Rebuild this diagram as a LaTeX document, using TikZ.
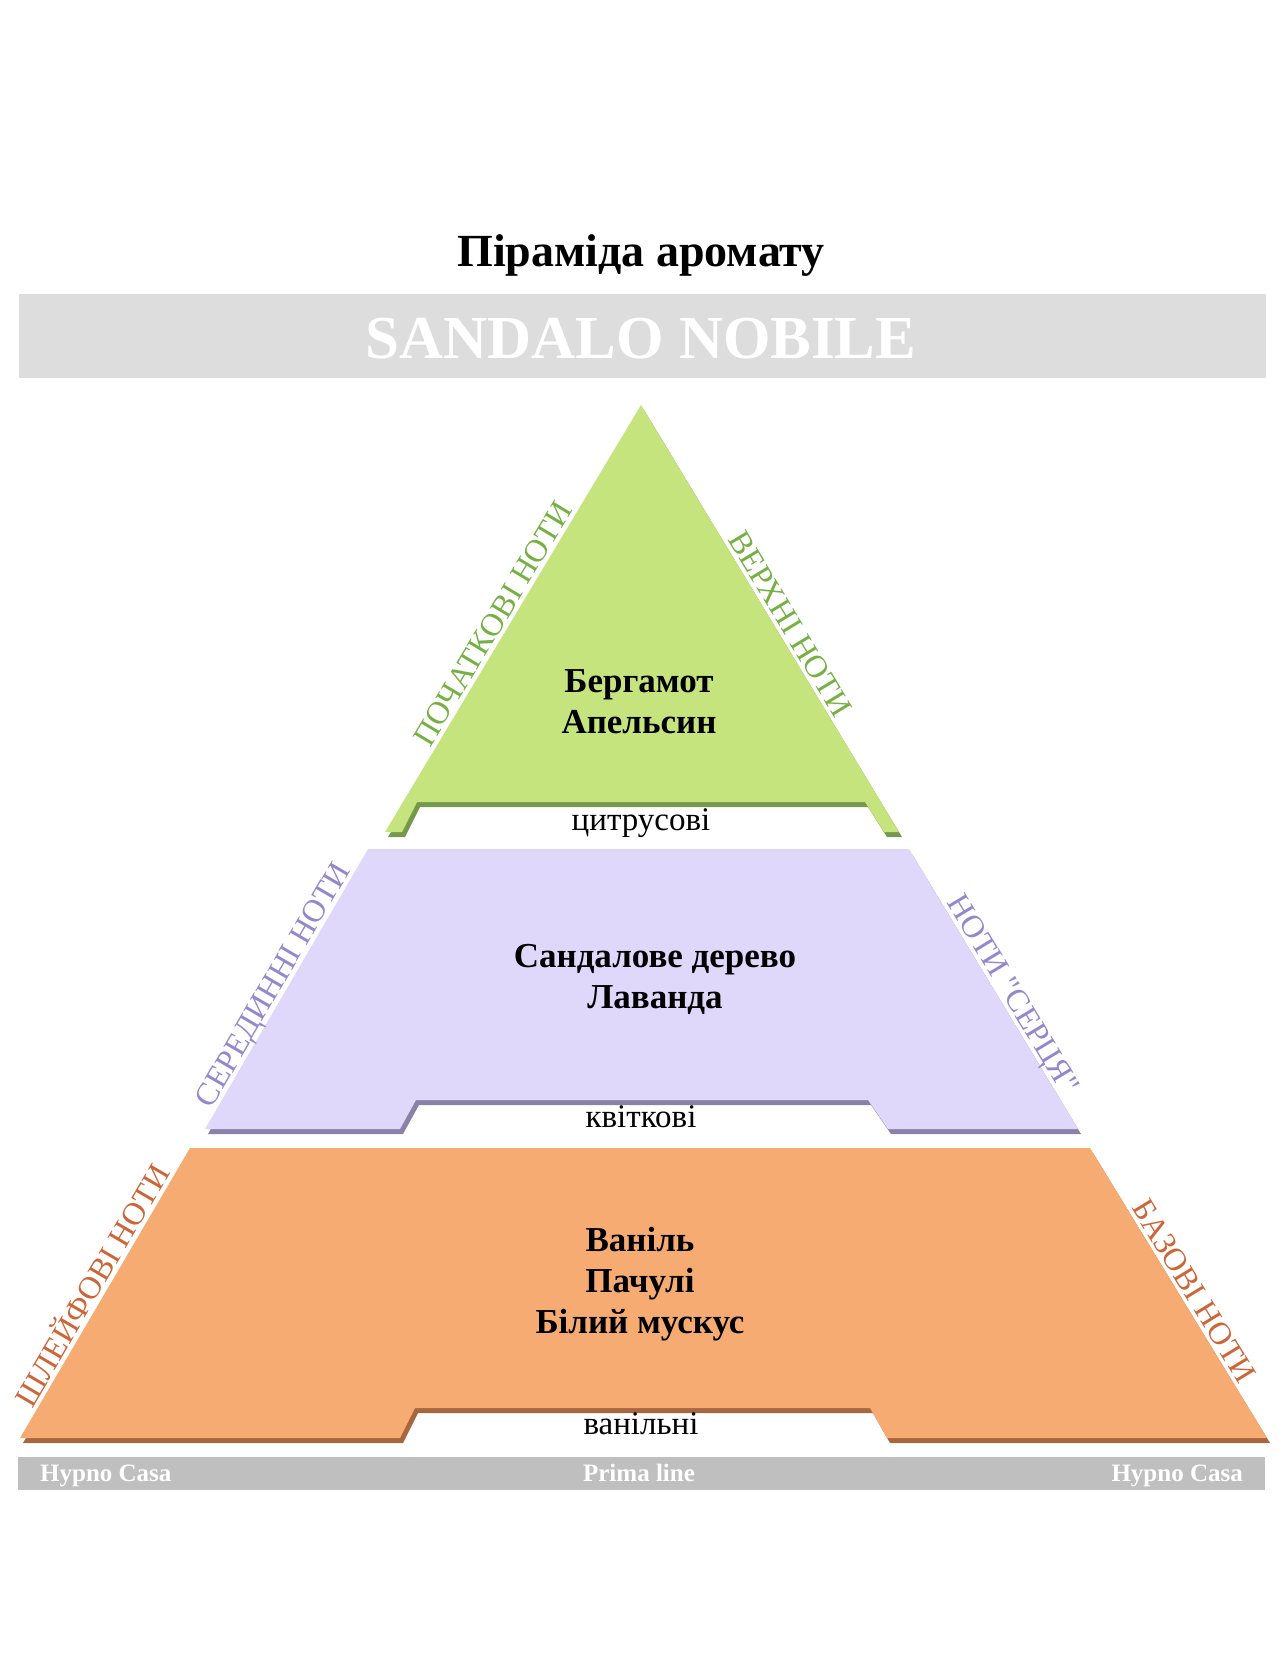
\documentclass[tikz,border=0pt]{standalone}
\usepackage{fontspec}
\setmainfont{Liberation Serif}
\newfontfamily\plainquote{Liberation Serif}
\usepackage{tikz}
\usetikzlibrary{positioning}
\definecolor{TopGreen}{RGB}{197,228,125}
\definecolor{TopGreenDark}{RGB}{118,152,76}
\definecolor{TopGreenText}{RGB}{118,176,68}
\definecolor{HeartLilac}{RGB}{224,216,250}
\definecolor{HeartLilacDark}{RGB}{138,128,168}
\definecolor{HeartLilacText}{RGB}{146,136,206}
\definecolor{BaseOrange}{RGB}{245,171,114}
\definecolor{BaseOrangeDark}{RGB}{168,102,62}
\definecolor{BaseOrangeText}{RGB}{204,102,56}
\definecolor{BandGrey}{RGB}{221,221,221}
\definecolor{FootGrey}{RGB}{191,191,191}
% tier outlines, in pixels of the page
\newcommand{\toptier}{(641,405) -- (899,832) -- (884,832) -- (865,802) -- (417,802) -- (402,832) -- (385,832) -- cycle}
\newcommand{\hearttier}{(368,849) -- (909,849) -- (1078,1129) -- (888,1129) -- (868,1100) -- (416,1100) -- (400,1129) -- (205,1129) -- cycle}
\newcommand{\basetier}{(190,1148) -- (1090,1148) -- (1267,1438) -- (887,1438) -- (870,1408) -- (415,1408) -- (400,1438) -- (20,1438) -- cycle}

\begin{document}
\begin{tikzpicture}[x=1pt, y=-1pt,
    notes/.style={font=\fontsize{35}{41}\selectfont\bfseries, align=center, anchor=base},
    family/.style={font=\fontsize{33}{38}\selectfont, anchor=base},
    side/.style={font=\fontsize{32}{36}\selectfont, sloped, above, inner sep=4pt, text depth=0pt},
    footer/.style={font=\fontsize{25}{28}\selectfont\bfseries, text=white, anchor=base, inner sep=0pt}
]
\useasboundingbox (0,0) rectangle (1284,1671);

% heading
\node[font=\fontsize{46}{52}\selectfont\bfseries, anchor=base] (title) at (641,266) {Піраміда аромату};
\fill[BandGrey] (19,294) rectangle (1266,378);
\node[font=\fontsize{61}{70}\selectfont\bfseries, text=white, anchor=base] (name) at (641,358) {SANDALO NOBILE};

% shadows
\begin{scope}[shift={(3,5)}]
\fill[TopGreenDark] \toptier;
\fill[HeartLilacDark] \hearttier;
\fill[BaseOrangeDark] \basetier;
\end{scope}

% tiers
\fill[TopGreen] \toptier;
\fill[HeartLilac] \hearttier;
\fill[BaseOrange] \basetier;

% top notes
\node[notes] (top) at (639,733) {Бергамот\\Апельсин};
\node[family] (citrus) at (641,830) {цитрусові};
\path (385,832) -- (641,405) node[side, pos=0.47, text=TopGreenText] (topL) {ПОЧАТКОВІ НОТИ};
\path (641,405) -- (899,832) node[side, pos=0.53, text=TopGreenText] (topR) {ВЕРХНІ НОТИ};

% heart notes
\node[notes] (heart) at (655,1008) {Сандалове дерево\\Лаванда};
\node[family] (floral) at (641,1127) {квіткові};
\path (205,1129) -- (368,849) node[side, pos=0.49, text=HeartLilacText] (heartL) {СЕРЕДИННІ НОТИ};
\path (909,849) -- (1078,1129) node[side, pos=0.545, text=HeartLilacText] (heartR) {\plainquote НОТИ "СЕРЦЯ"};

% base notes
\node[notes] (base) at (640,1333) {Ваніль\\Пачулі\\Білий мускус};
\node[family] (vanilla) at (641,1434) {ванільні};
\path (20,1438) -- (190,1148) node[side, pos=0.50, text=BaseOrangeText] (baseL) {ШЛЕЙФОВІ НОТИ};
\path (1090,1148) -- (1267,1438) node[side, pos=0.52, text=BaseOrangeText] (baseR) {БАЗОВІ НОТИ};

% footer
\fill[FootGrey] (18,1457) rectangle (1265,1490);
\node[footer, anchor=base west] (brandL) at (40,1481) {Hypno Casa};
\node[footer] (line) at (639,1481) {Prima line};
\node[footer, anchor=base east] (brandR) at (1243,1481) {Hypno Casa};
\end{tikzpicture}
\end{document}
